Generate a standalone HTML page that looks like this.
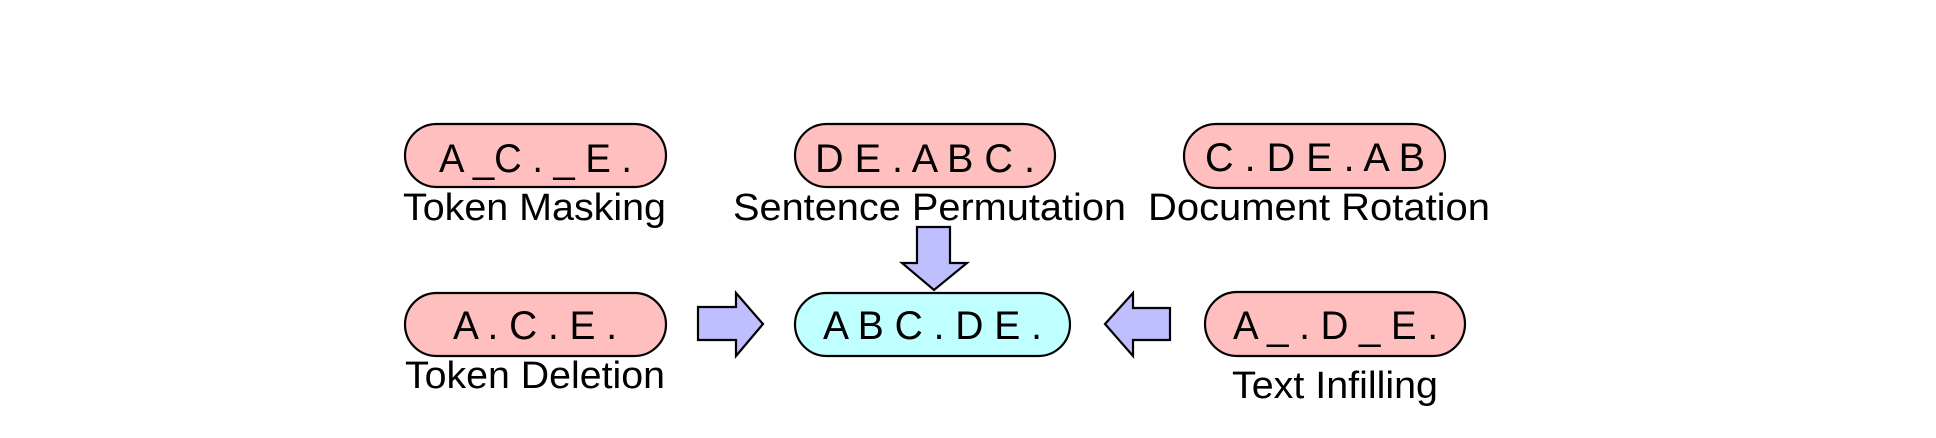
<!DOCTYPE html>
<html><head><meta charset="utf-8"><style>html,body{margin:0;padding:0;background:#fff}svg{display:block}</style></head>
<body>
<svg width="1936" height="438" viewBox="0 0 1936 438" xmlns="http://www.w3.org/2000/svg" font-family="'Liberation Sans', Arial, sans-serif">
<g stroke="#000" stroke-width="2.2">
<rect x="405" y="124" width="261" height="63" rx="31.5" fill="#FFBFBF"/>
<rect x="795" y="124" width="260" height="63" rx="31.5" fill="#FFBFBF"/>
<rect x="1184" y="124" width="261" height="64" rx="32" fill="#FFBFBF"/>
<rect x="405" y="293" width="261" height="63" rx="31.5" fill="#FFBFBF"/>
<rect x="795" y="293" width="275" height="63" rx="31.5" fill="#BFFFFF"/>
<rect x="1205" y="292" width="260" height="64" rx="32" fill="#FFBFBF"/>
<polygon points="917,227 950,227 950,263 967,263 934,290 902,263 917,263" fill="#BFBFFF"/>
<polygon points="698,307 736,307 736,293 763,324 736,356 736,340 698,340" fill="#BFBFFF"/>
<polygon points="1170,308 1133,308 1133,293 1105,324 1133,356 1133,340 1170,340" fill="#BFBFFF"/>
</g>
<g font-size="40" fill="#000">
<text x="439" y="172" textLength="193" lengthAdjust="spacingAndGlyphs">A _C . _ E .</text>
<text x="815" y="172" textLength="220" lengthAdjust="spacingAndGlyphs">D E . A B C .</text>
<text x="1205" y="171" textLength="220" lengthAdjust="spacingAndGlyphs">C . D E . A B</text>
<text x="453" y="339" textLength="164" lengthAdjust="spacingAndGlyphs">A . C . E .</text>
<text x="823" y="339" textLength="219" lengthAdjust="spacingAndGlyphs">A B C . D E .</text>
<text x="1233" y="339" textLength="205" lengthAdjust="spacingAndGlyphs">A _ . D _ E .</text>
</g>
<g font-size="38" fill="#000">
<text x="403" y="220" textLength="263" lengthAdjust="spacingAndGlyphs">Token Masking</text>
<text x="733" y="220" textLength="393" lengthAdjust="spacingAndGlyphs">Sentence Permutation</text>
<text x="1148" y="220" textLength="342" lengthAdjust="spacingAndGlyphs">Document Rotation</text>
<text x="405" y="388" textLength="260" lengthAdjust="spacingAndGlyphs">Token Deletion</text>
<text x="1232" y="398" textLength="206" lengthAdjust="spacingAndGlyphs">Text Infilling</text>
</g>
</svg>
</body></html>
